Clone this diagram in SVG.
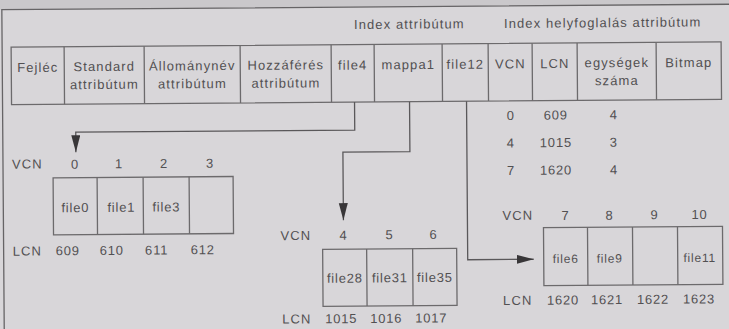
<svg xmlns="http://www.w3.org/2000/svg" width="729" height="329" viewBox="0 0 729 329">
<defs>
<style>
text{font-family:"Liberation Sans",Arial,sans-serif;font-size:13px;fill:#525052;letter-spacing:1.1px}
.c{text-anchor:middle}
.n{letter-spacing:0.8px}
.box{fill:none;stroke:#6c6a6c;stroke-width:1.3}
.ln{fill:none;stroke:#666466;stroke-width:1.3}
.con{fill:none;stroke:#5a585a;stroke-width:1.3;marker-end:url(#ah)}
</style>
<marker id="ah" markerUnits="userSpaceOnUse" markerWidth="18" markerHeight="10" refX="17" refY="4.5" orient="auto"><path d="M0,0 L17,4.5 L0,9 z" fill="#383638"/></marker>
</defs>
<rect width="729" height="329" fill="#d8d6d9"/>
<g transform="rotate(-0.43 364 164)">
<rect x="-10" y="-12" width="760" height="19" fill="#cac8cb"/>
<path class="ln" d="M3,345 V7 H745"/>

<g id="titles">
<text x="355" y="29">Index attribútum</text>
<text x="505" y="29">Index helyfoglalás attribútum</text>
</g>

<g id="mft-record">
<rect class="box" x="12" y="44.5" width="710" height="57.5"/>
<path class="box" d="M65,44.5V102 M145,44.5V102 M241,44.5V102 M332,44.5V102 M375,44.5V102 M443,44.5V102 M489,44.5V102 M533,44.5V102 M578,44.5V102 M657,44.5V102"/>
<text class="c" x="38.5" y="69.5">Fejléc</text>
<text class="c" x="105" y="69">Standard</text>
<text class="c" x="105" y="87">attribútum</text>
<text class="c" x="193" y="69">Állománynév</text>
<text class="c" x="193" y="87">attribútum</text>
<text class="c" x="286.5" y="69">Hozzáférés</text>
<text class="c" x="286.5" y="87">attribútum</text>
<text class="c" x="353.5" y="69.5">file4</text>
<text class="c" x="409" y="69.5">mappa1</text>
<text class="c" x="466" y="69.5">file12</text>
<text class="c" x="511" y="69.5">VCN</text>
<text class="c" x="555.5" y="69.5">LCN</text>
<text class="c" x="617.5" y="69">egységek</text>
<text class="c" x="617.5" y="87">száma</text>
<text class="c" x="689.5" y="69.5">Bitmap</text>
</g>

<g id="runs">
<text class="c n" x="511" y="121">0</text>
<text class="c n" x="556" y="121">609</text>
<text class="c n" x="614" y="121">4</text>
<text class="c n" x="511" y="148.5">4</text>
<text class="c n" x="556" y="148.5">1015</text>
<text class="c n" x="614" y="148.5">3</text>
<text class="c n" x="511" y="176">7</text>
<text class="c n" x="556" y="176">1620</text>
<text class="c n" x="614" y="176">4</text>
</g>

<g id="connectors">
<path class="con" d="M355,102 V130 H76 V150"/>
<path class="con" d="M410,102 V152 H343 V220"/>
<path class="con" d="M467,102 V260.5 H533"/>
</g>

<g id="run1">
<text x="12" y="166">VCN</text>
<text class="c n" x="75" y="166.5">0</text>
<text class="c n" x="119" y="166.5">1</text>
<text class="c n" x="164" y="166.5">2</text>
<text class="c n" x="210" y="166.5">3</text>
<rect class="box" x="53" y="175.5" width="180" height="57"/>
<path class="box" d="M97,175.5V232.5 M143,175.5V232.5 M189,175.5V232.5"/>
<text class="c n" x="75" y="210">file0</text>
<text class="c n" x="121" y="210">file1</text>
<text class="c n" x="166" y="210">file3</text>
<text x="12" y="253">LCN</text>
<text class="c n" x="67" y="253">609</text>
<text class="c n" x="111" y="253">610</text>
<text class="c n" x="156" y="253">611</text>
<text class="c n" x="202" y="253">612</text>
</g>

<g id="run2">
<text x="280" y="239.5">VCN</text>
<text class="c n" x="343" y="239.5">4</text>
<text class="c n" x="389" y="239.5">5</text>
<text class="c n" x="433" y="239.5">6</text>
<rect class="box" x="322" y="249" width="134" height="57"/>
<path class="box" d="M366,249V306 M412,249V306"/>
<text class="c n" x="344" y="282.5">file28</text>
<text class="c n" x="389" y="282.5">file31</text>
<text class="c n" x="434" y="282.5">file35</text>
<text x="281" y="323">LCN</text>
<text class="c n" x="340" y="323">1015</text>
<text class="c n" x="385" y="323">1016</text>
<text class="c n" x="430" y="323">1017</text>
</g>

<g id="run3">
<text x="502" y="221">VCN</text>
<text class="c n" x="565" y="221.5">7</text>
<text class="c n" x="609" y="221.5">8</text>
<text class="c n" x="654" y="221.5">9</text>
<text class="c n" x="699" y="221.5">10</text>
<rect class="box" x="543" y="229" width="179" height="58"/>
<path class="box" d="M587,229V287 M632,229V287 M677,229V287"/>
<text class="c n" x="565" y="264.5" style="font-size:12px">file6</text>
<text class="c n" x="609" y="264.5" style="font-size:12px">file9</text>
<text class="c n" x="699" y="264.5" style="font-size:12px">file11</text>
<text x="502" y="306">LCN</text>
<text class="c n" x="562" y="306">1620</text>
<text class="c n" x="606" y="306">1621</text>
<text class="c n" x="652" y="306">1622</text>
<text class="c n" x="698" y="306">1623</text>
</g>
</g>
</svg>
